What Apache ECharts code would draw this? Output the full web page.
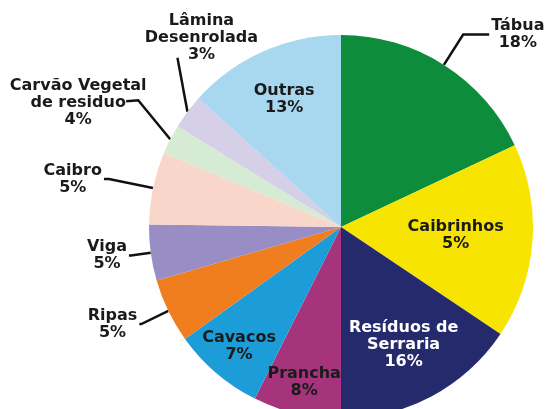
<!DOCTYPE html>
<html>
<head>
<meta charset="utf-8">
<script src="https://cdn.jsdelivr.net/npm/echarts@6/dist/echarts.min.js"></script>
<style>
html, body { margin: 0; background: #fff; }
#chart { width: 550px; height: 409px; }
</style>
</head>
<body>
<div id="chart"></div>
<script>
var categories = ["Tábua", "Caibrinhos", "Resíduos de\nSerraria", "Prancha", "Cavacos", "Ripas", "Viga", "Caibro", "Carvão Vegetal\nde residuo", "Lâmina\nDesenrolada", "Outras"];
// slice sizes as they are drawn (angles)
var sliceValues = [18, 16.4, 15.6, 7.4, 7.7, 5.4, 4.7, 6.1, 2.5, 2.9, 13.3];
// percentages as printed on the labels
var printedPct = [18, 5, 16, 8, 7, 5, 5, 5, 4, 3, 13];

var colors = ["#0d8c3c", "#f7e400", "#252a6c", "#a5347d", "#1c9dd8", "#f07e1f", "#998dc5", "#f9d6ca", "#d5ebd4", "#d5cfe7", "#a8d7f0"];
var CENTER = [341, 227], RADIUS = 192;

// inside labels: distance of text centre from the pie centre
var insideR = { 1: 115, 2: 133, 3: 160, 4: 157, 10: 140 };
// outside labels drawn by the pie itself
var outerLine = { 0: [36, 26], 5: [30, 2], 6: [20, 2], 7: [45, 5], 8: [20, 5], 9: [20, 5] };
// outside labels whose leader is bent by hand (offsets from slice edge)
var leader = {
    8: { text: [-92, -36], line: [[0, 0], [-32, -39], [-44, -38]] },
    9: { text: [14, -74], line: [[0, 0], [-5, -27], [-10, -54]] }
};

var data = [];
for (var i = 0; i < categories.length; i++) {
    var item = { name: categories[i], value: sliceValues[i], itemStyle: { color: colors[i] } };
    if (insideR[i] != null) {
        item.label = { position: "inside", color: i === 2 ? "#ffffff" : "#1a1a1a" };
        item.labelLine = { show: false };
    } else {
        item.label = { position: "outside" };
        item.labelLine = { show: true, length: outerLine[i][0], length2: outerLine[i][1] };
    }
    data.push(item);
}

var chart = echarts.init(document.getElementById("chart"), null, { renderer: "canvas" });
chart.setOption({
    backgroundColor: "#ffffff",
    animation: false,
    series: [{
        type: "pie",
        center: CENTER,
        radius: RADIUS,
        startAngle: 90,
        clockwise: true,
        avoidLabelOverlap: false,
        silent: true,
        itemStyle: { borderWidth: 0 },
        label: {
            show: true,
            color: "#1a1a1a",
            fontFamily: "DejaVu Sans",
            fontWeight: "bold",
            fontSize: 16,
            lineHeight: 17,
            textBorderWidth: 0,
            overflow: "none",
            bleedMargin: 0,
            distanceToLabelLine: 2,
            formatter: function (p) {
                var lines = (p.name + "\n" + printedPct[p.dataIndex] + "%").split("\n");
                return lines.map(function (s) { return "{c|" + s + "}"; }).join("\n");
            },
            rich: { c: { align: "center", lineHeight: 17 } }
        },
        labelLine: { smooth: false, lineStyle: { color: "#111111", width: 2.5 } },
        labelLayout: function (p) {
            var i = p.dataIndex;
            if (insideR[i] != null) {
                var r = p.labelRect;
                var dx = r.x + r.width / 2 - CENTER[0], dy = r.y + r.height / 2 - CENTER[1];
                var k = insideR[i] / Math.sqrt(dx * dx + dy * dy);
                return { x: CENTER[0] + dx * k, y: CENTER[1] + dy * k, align: "center", verticalAlign: "middle" };
            }
            if (leader[i] && p.labelLinePoints) {
                var p0 = p.labelLinePoints[0], t = leader[i];
                return {
                    x: p0[0] + t.text[0], y: p0[1] + t.text[1], align: "center", verticalAlign: "middle",
                    labelLinePoints: t.line.map(function (o) { return [p0[0] + o[0], p0[1] + o[1]]; })
                };
            }
            return {};
        },
        data: data
    }]
});
</script>
</body>
</html>
